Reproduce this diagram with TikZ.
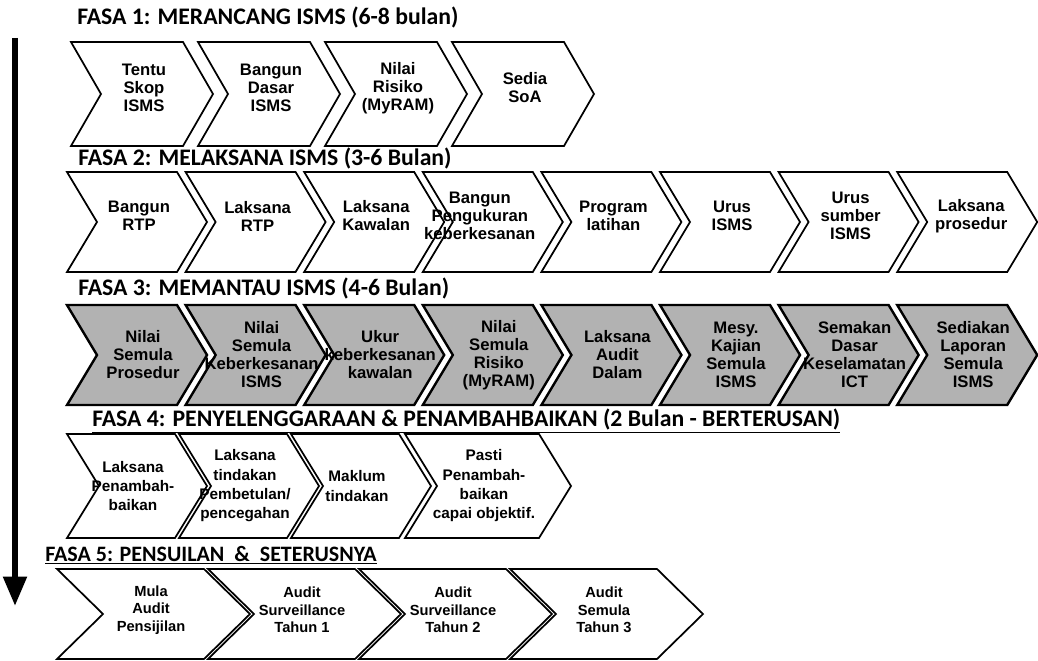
\documentclass[tikz,border=0pt]{standalone}
\usepackage{fontspec}
\setmainfont{Liberation Sans}
\newfontfamily\titlefont{Carlito}
\usetikzlibrary{arrows.meta}
\tikzset{
  chev/.style={draw=black, line width=1.3pt, fill=white, line join=miter},
  chevgray/.style={chev, fill=black!30, line width=1.8pt},
  chevtext/.style={align=center, inner sep=0pt, font=\bfseries\fontsize{12.5}{13.5}\selectfont},
  fasa/.style={anchor=west, inner sep=0pt, font=\titlefont\bfseries\fontsize{17.8}{19}\selectfont},
}
\begin{document}
\begin{tikzpicture}[x=0.75pt, y=-0.75pt, line join=round, >=stealth]
\useasboundingbox (0,0) rectangle (1038,660);
\clip (0,0) rectangle (1038,660);
\coordinate (arrtop) at (15,38);
\coordinate (arrbot) at (15,606);
\draw[line width=4.5pt, -{Triangle[length=22pt,width=17pt]}] (arrtop) -- (arrbot);
\node[fasa] (fasa1) at (77,17) {FASA 1: MERANCANG ISMS (6-8 bulan)};
\foreach \i/\nm/\txt in {0/tentu/{Tentu\\Skop\\ISMS}, 1/dasar/{Bangun\\Dasar\\ISMS},
  2/risiko/{Nilai\\Risiko\\(MyRAM)}, 3/soa/{Sedia\\SoA}}{
  \pgfmathsetmacro\xa{71+127*\i}
  \draw[chev] (\xa,42) -- ++(112,0) -- ++(30,52) -- ++(-30,52) -- ++(-112,0) -- ++(30,-52) -- cycle;
  \node[chevtext] (\nm) at (\xa+73,88) {\txt};
}
\node[fasa] (fasa2) at (78,158) {FASA 2: MELAKSANA ISMS (3-6 Bulan)};
\foreach \i/\dx/\nm/\txt in {0/72/rtpa/{Bangun\\RTP}, 1/72/rtpb/{Laksana\\RTP}, 2/72/kawalan/{Laksana\\Kawalan},
  3/57/ukur/{Bangun\\Pengukuran\\keberkesanan}, 4/72/latihan/{Program\\latihan}, 5/72/urus/{Urus\\ISMS},
  6/72/sumber/{Urus\\sumber\\ISMS}, 7/74/prosedur/{Laksana\\prosedur}}{
  \pgfmathsetmacro\xa{67+118.6*\i}
  \draw[chev] (\xa,172) -- ++(110,0) -- ++(30,50) -- ++(-30,50) -- ++(-110,0) -- ++(30,-50) -- cycle;
  \node[chevtext] (\nm) at (\xa+\dx,216) {\txt};
}
\node[fasa] (fasa3) at (78,288) {FASA 3: MEMANTAU ISMS (4-6 Bulan)};
\foreach \i/\nm/\txt in {0/nprosedur/{Nilai\\Semula\\Prosedur}, 1/nkeber/{Nilai\\Semula\\Keberkesanan\\ISMS},
  2/ukurkawal/{Ukur\\keberkesanan\\kawalan}, 3/nrisiko/{Nilai\\Semula\\Risiko\\(MyRAM)},
  4/auditdalam/{Laksana\\Audit\\Dalam}, 5/mesy/{Mesy.\\Kajian\\Semula\\ISMS},
  6/dasarict/{Semakan\\Dasar\\Keselamatan\\ICT}, 7/laporan/{Sediakan\\Laporan\\Semula\\ISMS}}{
  \pgfmathsetmacro\xa{67+118.6*\i}
  \draw[chevgray] (\xa,305) -- ++(110,0) -- ++(30,50) -- ++(-30,50) -- ++(-110,0) -- ++(30,-50) -- cycle;
  \node[chevtext] (\nm) at (\xa+76,355) {\txt};
}
\node[fasa] (fasa4) at (92,421) {\underline{FASA 4: PENYELENGGARAAN \& PENAMBAHBAIKAN (2 Bulan - BERTERUSAN)}};
\foreach \xa/\w/\nm/\txt in {67/108/penambah/{Laksana\\Penambah-\\baikan},
  179/108/betul/{Laksana\\tindakan\\Pembetulan/\\pencegahan}, 291/108/maklum/{Maklum\\tindakan},
  405/134/capai/{Pasti\\Penambah-\\baikan\\capai objektif.}}{
  \draw[chev] (\xa,434) -- ++(\w,0) -- ++(32,52) -- ++(-32,52) -- ++(-\w,0) -- ++(32,-52) -- cycle;
  \node[chevtext, font=\bfseries\fontsize{11.5}{14.5}\selectfont] (\nm) at (\xa+12+\w/2,486) {\txt};
}
\node[fasa, font=\titlefont\bfseries\fontsize{16.5}{18}\selectfont] (fasa5) at (45,555) {\underline{FASA 5: PENSUILAN\ \ \&\ \ SETERUSNYA}};
\foreach \i/\nm/\txt in {0/mula/{Mula\\Audit\\Pensijilan}, 1/tahuna/{Audit\\Surveillance\\Tahun 1},
  2/tahunb/{Audit\\Surveillance\\Tahun 2}, 3/tahunc/{Audit\\Semula\\Tahun 3}}{
  \pgfmathsetmacro\xa{57+151*\i}
  \draw[chev] (\xa,569) -- ++(147,0) -- ++(46,45) -- ++(-46,45) -- ++(-147,0) -- ++(46,-45) -- cycle;
  \node[chevtext, font=\bfseries\fontsize{11}{13}\selectfont] (\nm) at (\xa+94,610) {\txt};
}
\end{tikzpicture}
\end{document}
